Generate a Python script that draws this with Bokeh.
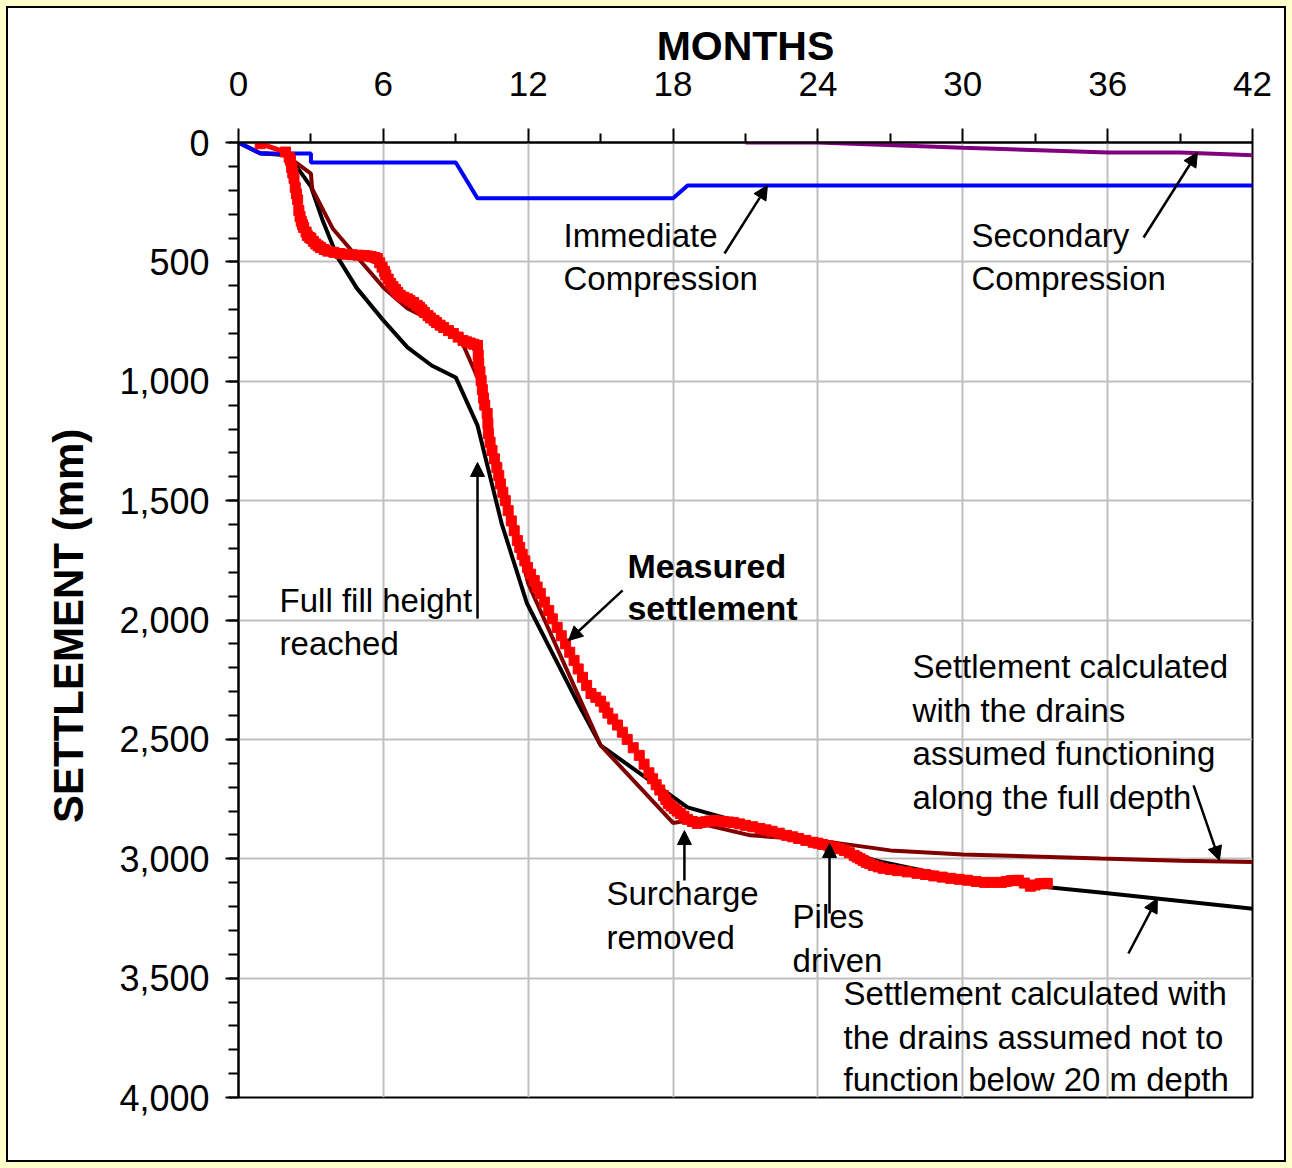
from bokeh.plotting import figure
from bokeh.models import (Range1d, LinearAxis, FixedTicker, NumeralTickFormatter,
                          Arrow, NormalHead, ColumnDataSource)
from bokeh.core.properties import value
from bokeh.embed import file_html
from bokeh.resources import INLINE

# ---------------- data ----------------
x_ticks = [0, 6, 12, 18, 24, 30, 36, 42]
x_minor = [3, 9, 15, 21, 27, 33, 39]
y_ticks = [0, 500, 1000, 1500, 2000, 2500, 3000, 3500, 4000]
y_minor = [v for v in range(0, 4001, 100)]

blue_t = [0, 0.9, 3.0, 3.0, 9.0, 9.9, 18.0, 18.6, 42.5]
blue_s = [0, 46, 46, 84, 84, 234, 234, 180, 180]

purple_t = [21, 24, 30, 36, 39, 42.5]
purple_s = [0, 0, 22, 42, 42, 55]

black_t = [0, 0.9, 1.9, 2.4, 3.0, 3.5, 4.1, 4.9, 6.0, 7.0, 8.0, 9.0, 9.9, 10.9,
           11.95, 14.0, 15.0, 18.6, 26.7, 29.9, 35.7, 42.5]
black_s = [0, 45, 52, 100, 185, 330, 480, 610, 745, 858, 934, 984, 1185, 1596,
           1931, 2337, 2525, 2785, 3015, 3083, 3141, 3215]

maroon_t = [0, 0.9, 1.9, 2.4, 3.0, 3.05, 3.9, 5.0, 6.0, 7.0, 8.0, 9.1, 9.9, 10.7,
            12.0, 15.0, 18.0, 18.6, 21.2, 24.0, 27.0, 30.0, 35.7, 39.0, 42.5]
maroon_s = [0, 45, 50, 85, 130, 193, 360, 490, 607, 695, 745, 800, 984, 1332,
            1847, 2525, 2850, 2840, 2902, 2923, 2965, 2982, 2999, 3008, 3015]

meas_t = [0.9, 1.95, 2.1, 2.15, 2.2, 2.25, 2.3, 2.35, 2.4, 2.45, 2.5, 2.55, 2.6,
          2.65, 2.7, 2.8, 2.85, 2.95, 3.0, 3.1, 3.2, 3.3, 3.4, 3.55, 3.7, 3.95,
          4.2, 4.45, 4.7, 4.95, 5.2, 5.35, 5.5, 5.65, 5.75, 5.85, 5.95, 6.05, 6.1,
          6.2, 6.3, 6.4, 6.5, 6.6, 6.7, 6.85, 7.0, 7.1, 7.25, 7.4, 7.5, 7.6, 7.7,
          7.85, 7.95, 8.1, 8.2, 8.35, 8.5, 8.7, 8.9, 9.1, 9.3, 9.45, 9.6, 9.75,
          9.9, 9.93, 9.95, 10.0, 10.05, 10.1, 10.15, 10.2, 10.3, 10.33, 10.35,
          10.42, 10.5, 10.6, 10.7, 10.78, 10.85, 10.95, 11.05, 11.17, 11.3, 11.42,
          11.55, 11.65, 11.75, 11.86, 11.97, 12.1, 12.25, 12.37, 12.5, 12.67,
          12.85, 13.0, 13.2, 13.37, 13.55, 13.72, 13.9, 14.07, 14.25, 14.42, 14.6,
          14.8, 15.0, 15.15, 15.3, 15.5, 15.7, 15.9, 16.1, 16.35, 16.6, 16.8,
          17.0, 17.15, 17.3, 17.45, 17.6, 17.7, 17.8, 17.92, 18.05, 18.17, 18.3,
          18.45, 18.6, 18.8, 19.0, 19.17, 19.35, 19.52, 19.7, 19.9, 20.1, 20.3,
          20.5, 20.75, 21.0, 21.3, 21.6, 21.85, 22.1, 22.4, 22.7, 22.95, 23.2,
          23.5, 23.8, 24.0, 24.2, 24.45, 24.7, 24.9, 25.1, 25.3, 25.5, 25.62,
          25.75, 25.87, 26.0, 26.15, 26.3, 26.5, 26.7, 27.0, 27.3, 27.7, 28.1,
          28.45, 28.8, 29.15, 29.5, 29.85, 30.2, 30.55, 30.9, 31.25, 31.6, 31.8,
          32.0, 32.15, 32.3, 32.55, 32.8, 33.0, 33.2, 33.35, 33.5]
meas_s = [5, 40, 62, 75, 105, 128, 150, 188, 215, 240, 285, 310, 330, 344, 356,
          375, 390, 398, 402, 414, 425, 433, 440, 448, 455, 460, 465, 468, 470,
          472, 473, 475, 478, 482, 486, 504, 522, 540, 555, 572, 590, 603, 615,
          628, 640, 648, 655, 662, 670, 682, 690, 701, 712, 725, 735, 745, 754,
          765, 775, 788, 800, 815, 829, 835, 840, 845, 850, 890, 925, 960, 997,
          1035, 1070, 1100, 1135, 1177, 1219, 1255, 1290, 1325, 1361, 1395, 1430,
          1465, 1500, 1542, 1585, 1626, 1667, 1696, 1725, 1752, 1780, 1808, 1835,
          1862, 1889, 1925, 1960, 1995, 2031, 2066, 2100, 2135, 2169, 2205, 2240,
          2274, 2308, 2324, 2340, 2365, 2390, 2415, 2440, 2470, 2500, 2535, 2567,
          2604, 2640, 2665, 2690, 2712, 2735, 2752, 2768, 2779, 2790, 2800, 2810,
          2822, 2835, 2844, 2852, 2848, 2845, 2842, 2840, 2842, 2845, 2846, 2848,
          2854, 2860, 2866, 2873, 2879, 2885, 2893, 2902, 2908, 2915, 2923, 2931,
          2935, 2940, 2946, 2952, 2958, 2965, 2975, 2986, 2993, 3000, 3007, 3015,
          3021, 3028, 3034, 3040, 3045, 3050, 3055, 3061, 3066, 3072, 3077, 3082,
          3086, 3090, 3095, 3099, 3099, 3099, 3095, 3092, 3091, 3090, 3102, 3115,
          3110, 3105, 3104, 3103]

# annotation texts
labels = [
    ("Immediate", 13.46, 390, "normal"),
    ("Compression", 13.46, 570, "normal"),
    ("Secondary", 30.36, 390, "normal"),
    ("Compression", 30.36, 570, "normal"),
    ("Full fill height", 1.70, 1918, "normal"),
    ("reached", 1.70, 2098, "normal"),
    ("Measured", 16.11, 1772, "bold"),
    ("settlement", 16.11, 1950, "bold"),
    ("Settlement calculated", 27.92, 2195, "normal"),
    ("with the drains", 27.92, 2379, "normal"),
    ("assumed functioning", 27.92, 2559, "normal"),
    ("along the full depth", 27.92, 2743, "normal"),
    ("Surcharge", 15.24, 3146, "normal"),
    ("removed", 15.24, 3330, "normal"),
    ("Piles", 22.95, 3242, "normal"),
    ("driven", 22.95, 3426, "normal"),
    ("Settlement calculated with", 25.06, 3564, "normal"),
    ("the drains assumed not to", 25.06, 3749, "normal"),
    ("function below 20 m depth", 25.06, 3925, "normal"),
]

arrows = [
    (20.13, 465, 21.91, 180),
    (37.49, 398, 39.72, 42),
    (9.90, 1994, 9.90, 1340),
    (15.91, 1876, 13.67, 2086),
    (39.56, 2693, 40.63, 3007),
    (18.47, 3091, 18.47, 2882),
    (24.48, 3229, 24.48, 2936),
    (36.86, 3397, 38.06, 3166),
]

FONT = "Liberation Sans"

p = figure(output_backend="svg", toolbar_location=None,
           frame_width=1014, frame_height=955,
           x_range=Range1d(0, 42), y_range=Range1d(4000, 0),
           x_axis_location=None, y_axis_location=None,
           min_border_left=230, min_border_right=36,
           min_border_top=134, min_border_bottom=67,
           background_fill_color="white", border_fill_color="white")
p.outline_line_color = "black"
p.outline_line_width = 2

xa = LinearAxis(ticker=FixedTicker(ticks=x_ticks, minor_ticks=x_minor))
xa.axis_label = "MONTHS"
xa.axis_label_text_font = FONT
xa.axis_label_text_font_style = "bold"
xa.axis_label_text_font_size = "41px"
xa.axis_label_text_color = "black"
xa.axis_label_standoff = 0
xa.major_label_text_font = FONT
xa.major_label_text_font_size = "35px"
xa.major_label_text_color = "black"
xa.major_label_standoff = 33
xa.axis_line_width = 2
xa.major_tick_out = 14
xa.major_tick_in = 0
xa.minor_tick_out = 9
xa.minor_tick_in = 0
xa.major_tick_line_width = 2
xa.minor_tick_line_width = 2
p.add_layout(xa, "above")

ya = LinearAxis(ticker=FixedTicker(ticks=y_ticks, minor_ticks=y_minor),
                formatter=NumeralTickFormatter(format="0,0"))
ya.axis_label = "SETTLEMENT  (mm)"
ya.axis_label_text_font = FONT
ya.axis_label_text_font_style = "bold"
ya.axis_label_text_font_size = "42px"
ya.axis_label_text_color = "black"
ya.axis_label_standoff = 24
ya.major_label_text_font = FONT
ya.major_label_text_font_size = "36px"
ya.major_label_text_color = "black"
ya.major_label_standoff = 16
ya.axis_line_width = 2
ya.major_tick_out = 13
ya.major_tick_in = 0
ya.minor_tick_out = 10
ya.minor_tick_in = 0
ya.major_tick_line_width = 2
ya.minor_tick_line_width = 2
p.add_layout(ya, "left")

p.xgrid.ticker = FixedTicker(ticks=x_ticks)
p.ygrid.ticker = FixedTicker(ticks=y_ticks)
for g in (p.xgrid, p.ygrid):
    g.grid_line_color = "#C0C0C0"
    g.grid_line_width = 2

p.line(black_t, black_s, line_color="black", line_width=4)
p.line(maroon_t, maroon_s, line_color="#800000", line_width=4)
p.line(blue_t, blue_s, line_color="#0000FF", line_width=4)
p.line(purple_t, purple_s, line_color="#800080", line_width=4)
p.line(meas_t, meas_s, line_color="#FF0000", line_width=5)
p.scatter(meas_t, meas_s, marker="square", size=10, fill_color="#FF0000",
          line_color="#FF0000")

src_n = ColumnDataSource(dict(text=[l[0] for l in labels if l[3] == "normal"],
                              x=[l[1] for l in labels if l[3] == "normal"],
                              y=[l[2] for l in labels if l[3] == "normal"]))
src_b = ColumnDataSource(dict(text=[l[0] for l in labels if l[3] == "bold"],
                              x=[l[1] for l in labels if l[3] == "bold"],
                              y=[l[2] for l in labels if l[3] == "bold"]))
p.text(x="x", y="y", text="text", source=src_n, text_font=value(FONT),
       text_font_size="33px", text_color="black", text_align="left",
       text_baseline="middle")
p.text(x="x", y="y", text="text", source=src_b, text_font=value(FONT),
       text_font_size="34px", text_font_style="bold", text_color="black",
       text_align="left", text_baseline="middle")

for (x0, y0, x1, y1) in arrows:
    p.add_layout(Arrow(x_start=x0, y_start=y0, x_end=x1, y_end=y1,
                       line_color="black", line_width=2.5,
                       end=NormalHead(size=14, fill_color="black",
                                      line_color="black", line_width=1)))

html = file_html(p, INLINE)
css = ("<style>html{background-color:#FFFFCC;}"
       "body{margin:6px !important;padding:0;width:1280px;height:1156px;"
       "border:2px solid black;background-color:white;overflow:hidden;}</style>")
html = html.replace("</head>", css + "</head>", 1)
open("out.html", "w").write(html)
